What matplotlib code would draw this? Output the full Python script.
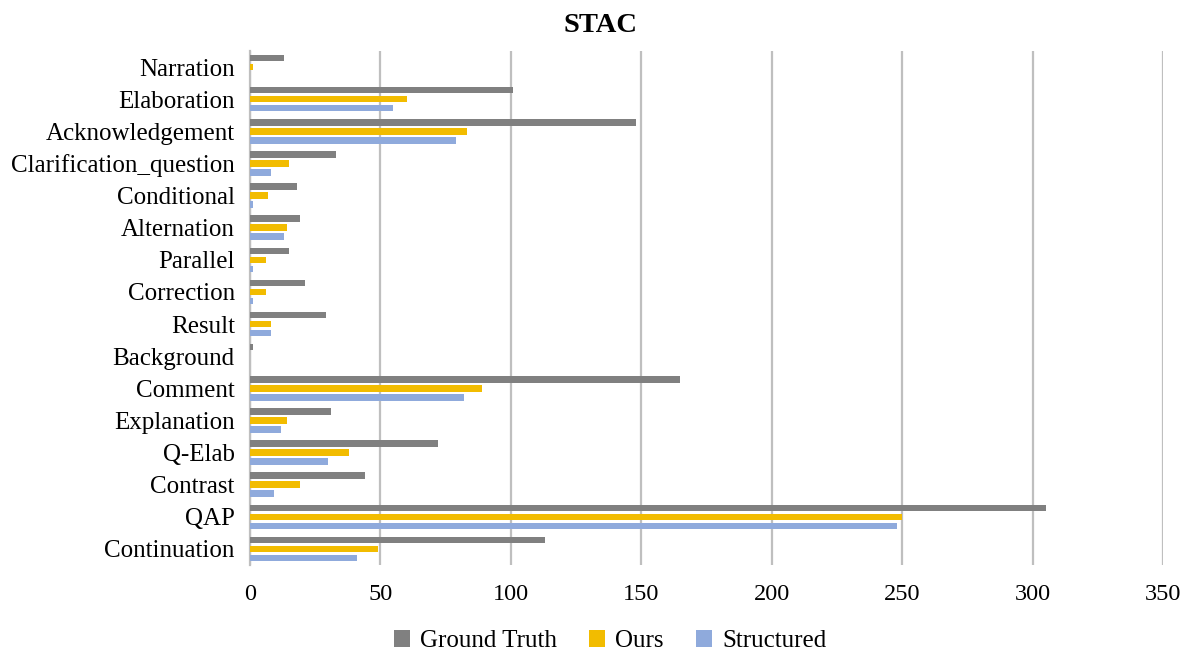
import matplotlib
matplotlib.use("Agg")
import matplotlib.pyplot as plt
import numpy as np

categories = ["Continuation", "QAP", "Contrast", "Q-Elab", "Explanation", "Comment",
              "Background", "Result", "Correction", "Parallel", "Alternation",
              "Conditional", "Clarification_question", "Acknowledgement",
              "Elaboration", "Narration"]
ground_truth = [113, 305, 44, 72, 31, 165, 1, 29, 21, 15, 19, 18, 33, 148, 101, 13]
ours =         [49, 250, 19, 38, 14, 89, 0, 8, 6, 6, 14, 7, 15, 83, 60, 1]
structured =   [41, 248, 9, 30, 12, 82, 0, 8, 1, 1, 13, 1, 8, 79, 55, 0]
series_names = ["Ground Truth", "Ours", "Structured"]
colors = ["#808080", "#F2BC00", "#8FAADC"]
x_ticks = [0, 50, 100, 150, 200, 250, 300, 350]

plt.rcParams['font.family'] = ['Liberation Serif', 'DejaVu Serif']

fig = plt.figure(figsize=(11.85, 6.52), dpi=100)
ax = fig.add_axes([0.211, 0.1334, 0.7704, 0.7884])

y = np.arange(len(categories))
pitch = 0.28
h = 0.2
for i, (vals, name, c) in enumerate(zip([ground_truth, ours, structured], series_names, colors)):
    ax.barh(y + (1 - i) * pitch, vals, height=h, color=c, label=name, zorder=3)

ax.set_xlim(0, 350)
ax.set_ylim(-0.5, len(categories) - 0.5)
ax.set_xticks(x_ticks)
ax.set_xticklabels([str(t) for t in x_ticks], fontsize=17.5)
ax.set_yticks(y)
ax.set_yticklabels(categories, fontsize=18)
ax.tick_params(axis='y', length=0, pad=11)
ax.tick_params(axis='x', length=0, pad=14)
ax.xaxis.grid(True, color="#BFBFBF", linewidth=1.6, zorder=0)
for s in ["top", "right", "bottom"]:
    ax.spines[s].set_visible(False)
ax.spines["left"].set_color("#BFBFBF")
ax.spines["left"].set_linewidth(1.6)

fig.text(0.5 + 0.007, 1 - 25 / 652, "STAC", ha="center", va="center", fontsize=20.5, fontweight="bold")

handles, labels = ax.get_legend_handles_labels()
fig.legend(handles, labels, loc="center", bbox_to_anchor=(610 / 1185, 1 - 641 / 652), ncol=3,
           frameon=False, fontsize=18, handlelength=0.64, handleheight=0.64,
           columnspacing=1.3, handletextpad=0.4, borderpad=0)

fig.savefig("out.png", dpi=100)
